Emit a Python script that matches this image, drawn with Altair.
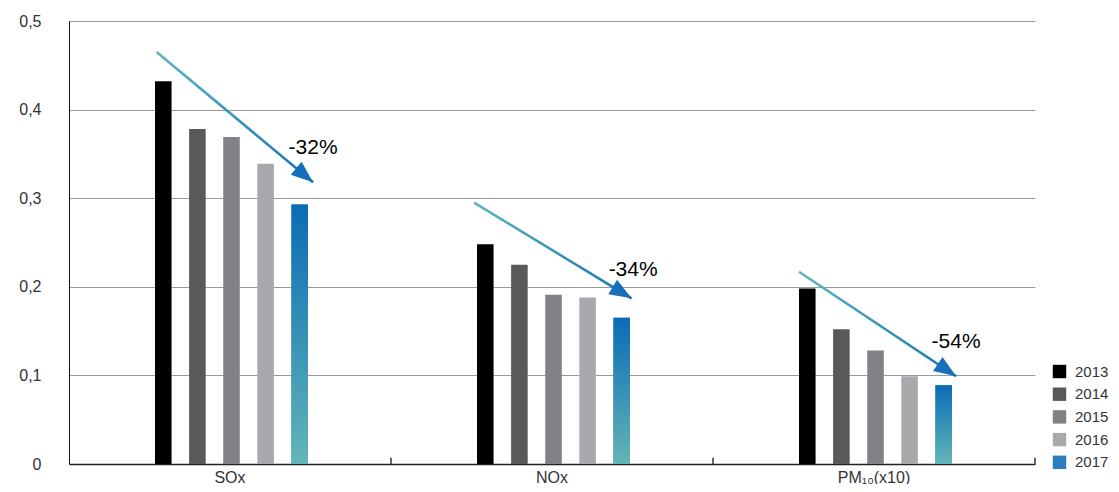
import altair as alt
import pandas as pd

categories = ["SOx", "NOx", "PM₁₀(x10)"]
years = ["2013", "2014", "2015", "2016", "2017"]
sox = [0.432, 0.378, 0.369, 0.339, 0.293]
nox = [0.248, 0.225, 0.191, 0.188, 0.165]
pm10 = [0.198, 0.152, 0.128, 0.099, 0.089]
year_colors = ["#000000", "#58595b", "#808285", "#a7a9ac", "#2a7dbf"]

pct_labels = ["-32%", "-34%", "-54%"]
arrow_x0 = [0.272, 1.258, 2.267]
arrow_y0 = [0.465, 0.295, 0.217]
arrow_x1 = [0.758, 1.747, 2.755]
arrow_y1 = [0.318, 0.187, 0.099]
arrow_angle = [39.8, 31.0, 33.8]
label_x = [0.758, 1.752, 2.755]
label_y = [0.350, 0.212, 0.131]
sep_x = [1, 2, 3]
sep_y0 = [0.0, 0.0, 0.0]
sep_y1 = [0.007, 0.007, 0.007]
y_ticks = [0, 0.1, 0.2, 0.3, 0.4, 0.5]

FONT = "Liberation Sans"

rows = []
for cat, vals in zip(categories, [sox, nox, pm10]):
    for yr, v in zip(years, vals):
        rows.append({"category": cat, "year": yr, "value": v})
df = pd.DataFrame(rows)
df17 = df[df["year"] == "2017"]

arrows = pd.DataFrame({
    "x0": arrow_x0, "y0": arrow_y0, "x1": arrow_x1, "y1": arrow_y1,
    "angle": arrow_angle, "lx": label_x, "ly": label_y, "label": pct_labels,
})
seps = pd.DataFrame({"x": sep_x, "y0": sep_y0, "y1": sep_y1})

y_scale = alt.Scale(domain=[0, 0.5], nice=False, zero=True)
x_scale = alt.Scale(domain=categories, paddingInner=0, paddingOuter=0)
xoff_scale = alt.Scale(domain=years, range=[86, 239], paddingInner=0.514, paddingOuter=0)

x_axis = alt.Axis(
    title=None, labelFontSize=16, labelFont=FONT, labelColor="#333333",
    ticks=False, labelPadding=5, domainColor="#222222", domainWidth=1.5,
    grid=False, labelAngle=0,
)
y_axis = alt.Axis(
    title=None, values=y_ticks, grid=True, gridColor="#9a9a9a", gridWidth=1,
    ticks=False, labelPadding=28, labelFontSize=16, labelFont=FONT,
    labelColor="#333333", domainColor="#111111", domainWidth=1,
    labelExpr="datum.value == 0 ? '0' : replace(format(datum.value, '.1f'), '.', ',')",
)

bars = alt.Chart(df).mark_bar().encode(
    x=alt.X("category:N", sort=categories, scale=x_scale, axis=x_axis),
    xOffset=alt.XOffset("year:N", sort=years, scale=xoff_scale),
    y=alt.Y("value:Q", scale=y_scale, axis=y_axis),
    color=alt.Color(
        "year:N", sort=years,
        scale=alt.Scale(domain=years, range=year_colors),
        legend=alt.Legend(
            title=None, orient="none", legendX=983, legendY=343,
            symbolType="square", symbolSize=180, symbolStrokeWidth=0,
            labelFontSize=15, labelFont=FONT, labelColor="#333333",
            labelOffset=8, rowPadding=6.7, padding=0,
        ),
    ),
)

grad_fill = alt.LinearGradient(
    gradient="linear",
    stops=[alt.GradientStop(color="#0a6cb6", offset=0),
           alt.GradientStop(color="#63b5b6", offset=1)],
    x1=0, x2=0, y1=0, y2=1,
)
bars17 = alt.Chart(df17).mark_bar(fill=grad_fill).encode(
    x=alt.X("category:N", sort=categories, scale=x_scale, axis=x_axis),
    xOffset=alt.XOffset("year:N", sort=years, scale=xoff_scale),
    y=alt.Y("value:Q", scale=y_scale, axis=y_axis),
)

xq = alt.Scale(domain=[0, 3], nice=False, zero=False)

sep_rules = alt.Chart(seps).mark_rule(color="#333333", strokeWidth=1.5).encode(
    x=alt.X("x:Q", scale=xq, axis=None),
    y=alt.Y("y0:Q", scale=y_scale, axis=y_axis),
    y2="y1:Q",
)

line_grad = alt.LinearGradient(
    gradient="linear",
    stops=[alt.GradientStop(color="#5cb7bd", offset=0),
           alt.GradientStop(color="#1570b9", offset=1)],
    x1=0, x2=1, y1=0, y2=1,
)
arrow_lines = alt.Chart(arrows).mark_rule(stroke=line_grad, strokeWidth=2.5).encode(
    x=alt.X("x0:Q", scale=xq, axis=None),
    x2="x1:Q",
    y=alt.Y("y0:Q", scale=y_scale, axis=y_axis),
    y2="y1:Q",
)

heads = alt.Chart(arrows).mark_point(
    shape="M0,0L-2.2,-0.85L-2.2,0.85Z", filled=True, size=400,
    fill="#1570b9", opacity=1, strokeWidth=0,
).encode(
    x=alt.X("x1:Q", scale=xq, axis=None),
    y=alt.Y("y1:Q", scale=y_scale, axis=y_axis),
    angle=alt.Angle("angle:Q", scale=None),
)

texts = alt.Chart(arrows).mark_text(
    fontSize=21, font=FONT, color="#000000", align="center", baseline="alphabetic",
).encode(
    x=alt.X("lx:Q", scale=xq, axis=None),
    y=alt.Y("ly:Q", scale=y_scale, axis=y_axis),
    text="label:N",
)

chart = alt.layer(
    alt.layer(bars, bars17),
    alt.layer(sep_rules, arrow_lines, heads, texts),
).resolve_scale(x="independent").properties(
    width=966, height=443,
    autosize=alt.AutoSizeParams(type="none"),
    padding={"left": 61, "top": 13, "right": 76, "bottom": 20},
).configure_view(stroke=None)

chart.save("out.html", embed_options={"renderer": "svg", "actions": False})
